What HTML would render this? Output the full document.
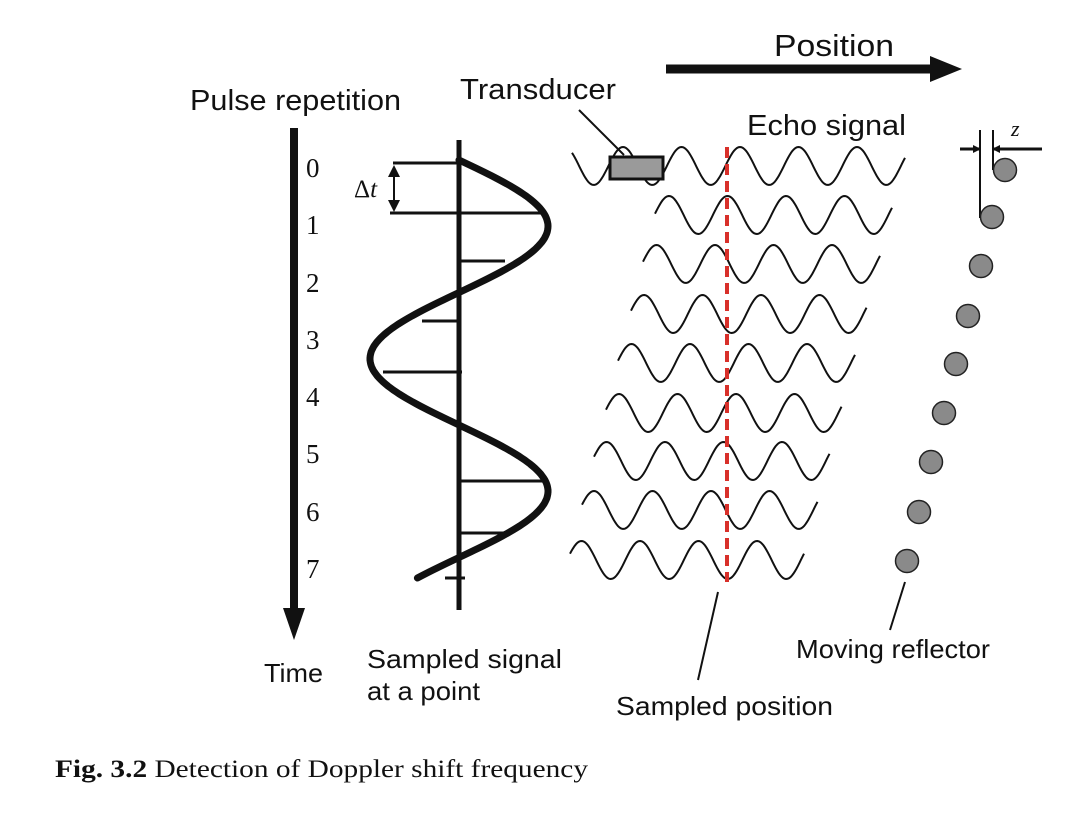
<!DOCTYPE html>
<html><head><meta charset="utf-8"><style>
body{margin:0;background:#fff;}
svg{display:block;font-family:"Liberation Sans",sans-serif;}
</style></head><body>
<svg id="s" width="1087" height="821" viewBox="0 0 1087 821" xmlns="http://www.w3.org/2000/svg">
<defs>
<marker id="ah" markerWidth="8" markerHeight="8" refX="7" refY="4" orient="auto" markerUnits="userSpaceOnUse"><path d="M0,0 L8,4 L0,8 z" fill="#111"/></marker>
</defs>
<line x1="666" y1="69" x2="935" y2="69" stroke="#111" stroke-width="9"/>
<polygon points="930,56 962,69 930,82" fill="#111"/>
<text x="774" y="56" font-size="31" fill="#111" textLength="120" lengthAdjust="spacingAndGlyphs">Position</text>
<text x="190" y="110" font-size="29" fill="#111" textLength="211" lengthAdjust="spacingAndGlyphs">Pulse repetition</text>
<text x="460" y="99" font-size="29" fill="#111" textLength="156" lengthAdjust="spacingAndGlyphs">Transducer</text>
<text x="747" y="135" font-size="29" fill="#111" textLength="159" lengthAdjust="spacingAndGlyphs">Echo signal</text>
<line x1="294" y1="128" x2="294" y2="612" stroke="#111" stroke-width="8"/>
<polygon points="283,608 305,608 294,640" fill="#111"/>
<g font-family="Liberation Serif,serif" font-size="27" fill="#111">
<text x="306" y="177">0</text><text x="306" y="234">1</text><text x="306" y="292">2</text><text x="306" y="349">3</text><text x="306" y="406">4</text><text x="306" y="463">5</text><text x="306" y="521">6</text><text x="306" y="578">7</text>
<text x="354" y="197" font-size="25">Δ<tspan font-style="italic">t</tspan></text>
<text x="1011" y="136" font-size="22" font-style="italic">z</text>
</g>
<line x1="459" y1="140" x2="459" y2="610" stroke="#111" stroke-width="5"/>
<g stroke="#111" stroke-width="3">
<line x1="393" y1="163" x2="459" y2="163"/>
<line x1="390" y1="213" x2="545" y2="213"/>
<line x1="459" y1="261" x2="505" y2="261"/>
<line x1="422" y1="321" x2="459" y2="321"/>
<line x1="383" y1="372" x2="462" y2="372"/>
<line x1="459" y1="481" x2="545" y2="481"/>
<line x1="459" y1="533" x2="505" y2="533"/>
<line x1="445" y1="578" x2="465" y2="578"/>
<line x1="394" y1="176" x2="394" y2="200" stroke-width="2"/>
</g>
<polygon points="388,177 400,177 394,165" fill="#111"/>
<polygon points="388,200 400,200 394,212" fill="#111"/>
<path id="big" fill="none" stroke="#111" stroke-width="7" stroke-linecap="round"/>
<g id="waves" fill="none" stroke="#111" stroke-width="2"></g>
<rect x="610" y="157" width="53" height="22" fill="#9a9a9a" stroke="#111" stroke-width="3"/>
<line x1="579" y1="110" x2="624" y2="155" stroke="#111" stroke-width="2"/>
<line x1="727" y1="147" x2="727" y2="582" stroke="#d8302a" stroke-width="4" stroke-dasharray="11,6"/>
<line x1="718" y1="592" x2="698" y2="680" stroke="#111" stroke-width="2"/>
<line x1="980" y1="130" x2="980" y2="218" stroke="#111" stroke-width="2"/>
<line x1="993" y1="130" x2="993" y2="170" stroke="#111" stroke-width="2"/>
<line x1="960" y1="149" x2="980" y2="149" stroke="#111" stroke-width="3" marker-end="url(#ah)"/>
<line x1="1042" y1="149" x2="993" y2="149" stroke="#111" stroke-width="3" marker-end="url(#ah)"/>
<g fill="#8a8a8a" stroke="#222" stroke-width="1.5">
<circle cx="1005" cy="170" r="11.5"/><circle cx="992" cy="217" r="11.5"/><circle cx="981" cy="266" r="11.5"/><circle cx="968" cy="316" r="11.5"/><circle cx="956" cy="364" r="11.5"/><circle cx="944" cy="413" r="11.5"/><circle cx="931" cy="462" r="11.5"/><circle cx="919" cy="512" r="11.5"/><circle cx="907" cy="561" r="11.5"/>
</g>
<line x1="905" y1="582" x2="890" y2="630" stroke="#111" stroke-width="2"/>
<g font-size="26" fill="#111" lengthAdjust="spacingAndGlyphs">
<text x="264" y="682" textLength="59" lengthAdjust="spacingAndGlyphs">Time</text>
<text x="367" y="668" textLength="195" lengthAdjust="spacingAndGlyphs">Sampled  signal</text>
<text x="367" y="700" textLength="113" lengthAdjust="spacingAndGlyphs">at a point</text>
<text x="616" y="715" textLength="217" lengthAdjust="spacingAndGlyphs">Sampled  position</text>
<text x="796" y="658" textLength="194" lengthAdjust="spacingAndGlyphs">Moving reflector</text>
</g>
<text x="55" y="777" font-family="Liberation Serif,serif" font-size="25" fill="#111" textLength="533" lengthAdjust="spacingAndGlyphs"><tspan font-weight="bold">Fig. 3.2</tspan>   Detection of Doppler shift frequency</text>
</svg>
<script>
(function(){
var d="";
for(var y=160;y<=578;y+=2){var x=459+89*Math.sin(2*Math.PI*(y-160)/265);d+=(y==160?"M":"L")+x.toFixed(1)+","+y+" ";}
document.getElementById("big").setAttribute("d",d);
var g=document.getElementById("waves"),ns="http://www.w3.org/2000/svg";
var cys=[166,215,264,314,363,413,461,510,560];
var starts=[572,655,643,631,618,606,594,582,570];
for(var k=0;k<9;k++){
 var sh=-12.5*k, cy=cys[k], x0=starts[k], x1=905+sh, p="";
 for(var x=x0;x<=x1;x+=1.5){
  var yy=cy-19*Math.cos(2*Math.PI*(x-740-sh)/58.5);
  p+=(p?"L":"M")+x.toFixed(1)+","+yy.toFixed(1)+" ";
 }
 var e=document.createElementNS(ns,"path");e.setAttribute("d",p);g.appendChild(e);
}
})();
</script>
</body></html>
